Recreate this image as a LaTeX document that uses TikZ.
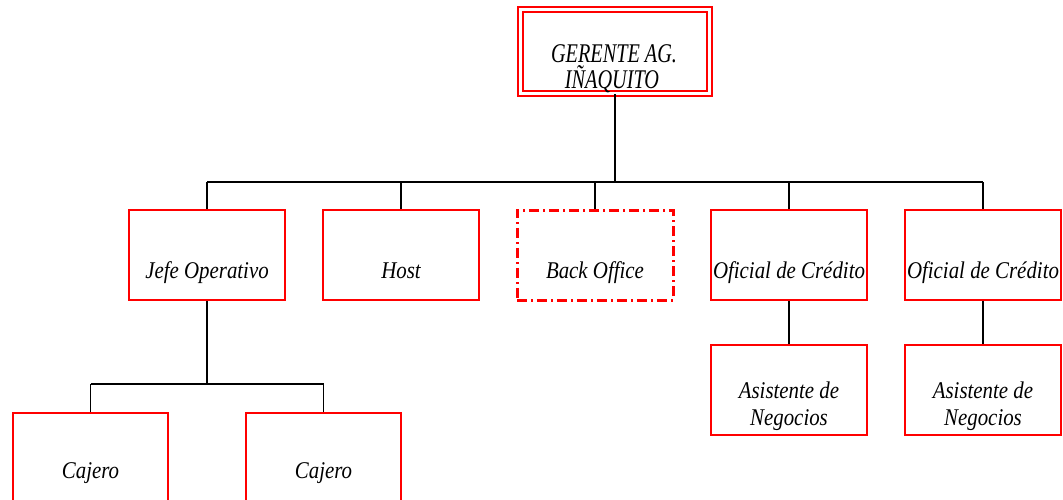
\documentclass[tikz,border=0pt]{standalone}
\usepackage{fontspec}
\setmainfont{Liberation Serif}
\newfontfamily\lblfont[FakeStretch=0.87]{Liberation Serif}
\newfontfamily\topfont[FakeStretch=0.75]{Liberation Serif}
\begin{document}
\begin{tikzpicture}[x=1pt,y=-1pt,
  box/.style={draw=red,line width=1.9pt,rectangle,inner sep=0pt,minimum width=156pt,minimum height=90pt},
  topbox/.style={draw=red,line width=1.5pt,double=white,double distance=3.5pt,rectangle,inner sep=0pt,minimum width=189pt,minimum height=84pt},
  dashbox/.style={draw=red,line width=3pt,rectangle,inner sep=0pt,minimum width=156pt,minimum height=90pt,
    dash pattern=on 10pt off 4pt on 2pt off 4pt},
  lbl/.style={anchor=base,inner sep=0pt,font=\lblfont\fontsize{24}{28}\selectfont\itshape},
  toplbl/.style={anchor=base,inner sep=0pt,font=\topfont\fontsize{27}{30}\selectfont\itshape},
  conn/.style={draw=black,line width=1.7pt}]
\useasboundingbox (0,0) rectangle (1063,500);
% boxes
\node[topbox] (top) at (615,51.5) {};
\node[box] (jefe) at (207,255) {};
\node[box] (host) at (401,255) {};
\node[dashbox] (back) at (595,255) {};
\node[box] (of1) at (789,255) {};
\node[box] (of2) at (983,255) {};
\node[box] (as1) at (789,390) {};
\node[box] (as2) at (983,390) {};
\node[box,minimum width=155pt] (caj1) at (90.5,458) {};
\node[box,minimum width=155pt] (caj2) at (323.5,458) {};
% texts
\node[toplbl] (ttop1) at (614,63) {GERENTE AG.};
\node[toplbl] (ttop2) at (612,89) {IÑAQUITO};
\node[lbl] (tjefe) at (207,278) {Jefe Operativo};
\node[lbl] (thost) at (401,278) {Host};
\node[lbl] (tback) at (595,278) {Back Office};
\node[lbl] (tof1) at (789,278) {Oficial de Crédito};
\node[lbl] (tof2) at (983,278) {Oficial de Crédito};
\node[lbl] (tas1a) at (789,398) {Asistente de};
\node[lbl] (tas1b) at (789,425) {Negocios};
\node[lbl] (tas2a) at (983,398) {Asistente de};
\node[lbl] (tas2b) at (983,425) {Negocios};
\node[lbl] (tcaj1) at (90.5,478) {Cajero};
\node[lbl] (tcaj2) at (323.5,478) {Cajero};
% connectors
\coordinate (busL) at (207,182);
\coordinate (busR) at (983,182);
\coordinate (bus2L) at (90.5,384);
\coordinate (bus2R) at (323.5,384);
\draw[conn] (busL) -- (busR);
\draw[conn,line width=2.6pt] (top.south) -- (top.south |- busL);
\foreach \n in {jefe,host,back,of1,of2}
  \draw[conn] (\n.north) -- (\n.north |- busL);
\draw[conn] (jefe.south) -- (jefe.south |- bus2L);
\draw[conn] (bus2L) -- (bus2R);
\draw[conn] (caj1.north) -- (bus2L);
\draw[conn] (caj2.north) -- (bus2R);
\draw[conn] (of1.south) -- (as1.north);
\draw[conn] (of2.south) -- (as2.north);
\end{tikzpicture}
\end{document}
